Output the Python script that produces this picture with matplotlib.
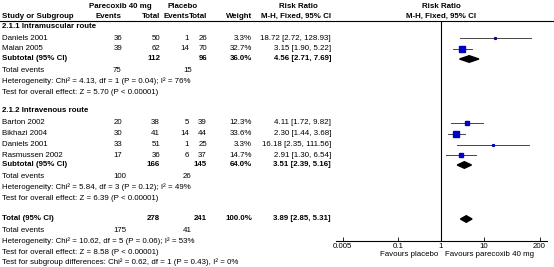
import matplotlib.pyplot as plt
from matplotlib.patches import Polygon

plt.rcParams['font.family'] = ['Liberation Sans', 'DejaVu Sans']

# 2.1.1 Intramuscular route
im_names = ['Daniels 2001', 'Malan 2005']
im_ev_p = [36, 39]
im_tot_p = [50, 62]
im_ev_c = [1, 14]
im_tot_c = [26, 70]
im_weight = [3.3, 32.7]
im_rr = [18.72, 3.15]
im_lo = [2.72, 1.90]
im_hi = [128.93, 5.22]
im_sub = [112, 96, 36.0, 4.56, 2.71, 7.69]
im_events = [75, 15]
im_het = 'Heterogeneity: Chi² = 4.13, df = 1 (P = 0.04); I² = 76%'
im_z = 'Test for overall effect: Z = 5.70 (P < 0.00001)'

# 2.1.2 Intravenous route
iv_names = ['Barton 2002', 'Bikhazi 2004', 'Daniels 2001', 'Rasmussen 2002']
iv_ev_p = [20, 30, 33, 17]
iv_tot_p = [38, 41, 51, 36]
iv_ev_c = [5, 14, 1, 6]
iv_tot_c = [39, 44, 25, 37]
iv_weight = [12.3, 33.6, 3.3, 14.7]
iv_rr = [4.11, 2.30, 16.18, 2.91]
iv_lo = [1.72, 1.44, 2.35, 1.30]
iv_hi = [9.82, 3.68, 111.56, 6.54]
iv_sub = [166, 145, 64.0, 3.51, 2.39, 5.16]
iv_events = [100, 26]
iv_het = 'Heterogeneity: Chi² = 5.84, df = 3 (P = 0.12); I² = 49%'
iv_z = 'Test for overall effect: Z = 6.39 (P < 0.00001)'

# overall
tot = [278, 241, 100.0, 3.89, 2.85, 5.31]
tot_events = [175, 41]
tot_het = 'Heterogeneity: Chi² = 10.62, df = 5 (P = 0.06); I² = 53%'
tot_z = 'Test for overall effect: Z = 8.58 (P < 0.00001)'
sub_diff = 'Test for subgroup differences: Chi² = 0.62, df = 1 (P = 0.43), I² = 0%'

ticks = [0.005, 0.1, 1, 10, 200]
tick_labels = ['0.005', '0.1', '1', '10', '200']

W, H = 554, 267
fs = 5.7
fig = plt.figure(figsize=(W / 100, H / 100), dpi=100)
ax = fig.add_axes([0, 0, 1, 1])
ax.set_xlim(0, W)
ax.set_ylim(H, 0)
ax.axis('off')

# forest panel, y in pixel units so rows line up with the table
x0, x1, y_top, y_axis = 336, 547.3, 21, 240.7
fx = fig.add_axes([x0 / W, (H - y_axis) / H, (x1 - x0) / W, (y_axis - y_top) / H])
fx.set_xscale('log')
fx.set_xlim(10 ** -2.453, 10 ** 2.483)
fx.set_ylim(y_axis, y_top)
fx.patch.set_alpha(0)
for s in ['top', 'left', 'right']:
    fx.spines[s].set_visible(False)
fx.spines['bottom'].set_linewidth(0.8)
fx.set_yticks([])
fx.set_xticks(ticks)
fx.set_xticklabels(tick_labels, fontsize=fs)
fx.minorticks_off()
fx.tick_params(axis='x', direction='in', length=3, width=0.6, pad=1.5)
fx.axvline(1, color='black', lw=0.8)

# column positions
c_ev_p, c_tot_p, c_ev_c, c_tot_c, c_w, c_rr = 122, 160, 189, 207, 252, 331


def t(x, y, s, ha='left', bold=False):
    ax.text(x, y, s, ha=ha, va='center', fontsize=fs,
            fontweight='bold' if bold else 'normal', color='black')


# header
t(120.5, 6, 'Parecoxib 40 mg', 'center', True)
t(183, 6, 'Placebo', 'center', True)
t(298, 6, 'Risk Ratio', 'center', True)
t(441.5, 6, 'Risk Ratio', 'center', True)
t(2, 16, 'Study or Subgroup', bold=True)
t(c_ev_p, 16, 'Events', 'right', True)
t(c_tot_p, 16, 'Total', 'right', True)
t(c_ev_c, 16, 'Events', 'right', True)
t(c_tot_c, 16, 'Total', 'right', True)
t(c_w, 16, 'Weight', 'right', True)
t(c_rr, 16, 'M-H, Fixed, 95% CI', 'right', True)
t(441.5, 16, 'M-H, Fixed, 95% CI', 'center', True)
ax.plot([0, W], [21, 21], color='black', lw=0.8)


def study_rows(names, ev_p, tot_p, ev_c, tot_c, weight, rr, lo, hi, ys):
    for i, y in enumerate(ys):
        t(2, y, names[i])
        t(c_ev_p, y, str(ev_p[i]), 'right')
        t(c_tot_p, y, str(tot_p[i]), 'right')
        t(c_ev_c, y, str(ev_c[i]), 'right')
        t(c_tot_c, y, str(tot_c[i]), 'right')
        t(c_w, y, '%.1f%%' % weight[i], 'right')
        t(c_rr, y, '%.2f [%.2f, %.2f]' % (rr[i], lo[i], hi[i]), 'right')
        fx.plot([lo[i], hi[i]], [y, y], color='#444444', lw=0.7)
        fx.plot(rr[i], y, marker='s', color='#0000c8', mec='#0000c8',
                ms=0.95 * weight[i] ** 0.5 * 0.72)


def pooled_row(label, vals, y):
    t(2, y, label, bold=True)
    t(c_tot_p, y, str(vals[0]), 'right', True)
    t(c_tot_c, y, str(vals[1]), 'right', True)
    t(c_w, y, '%.1f%%' % vals[2], 'right', True)
    t(c_rr, y, '%.2f [%.2f, %.2f]' % (vals[3], vals[4], vals[5]), 'right', True)
    h = 3.3
    fx.add_patch(Polygon([(vals[4], y), (vals[3], y - h), (vals[5], y),
                          (vals[3], y + h)], closed=True, color='black'))


def events_row(ev, y):
    t(2, y, 'Total events')
    t(113, y, str(ev[0]))
    t(183, y, str(ev[1]))


# intramuscular
t(2, 27, '2.1.1 Intramuscular route', bold=True)
study_rows(im_names, im_ev_p, im_tot_p, im_ev_c, im_tot_c, im_weight,
           im_rr, im_lo, im_hi, [38, 49])
pooled_row('Subtotal (95% CI)', im_sub, 59)
events_row(im_events, 70)
t(2, 81, im_het)
t(2, 92, im_z)

# intravenous
t(2, 110, '2.1.2 Intravenous route', bold=True)
study_rows(iv_names, iv_ev_p, iv_tot_p, iv_ev_c, iv_tot_c, iv_weight,
           iv_rr, iv_lo, iv_hi, [122.5, 133.5, 144.5, 155.3])
pooled_row('Subtotal (95% CI)', iv_sub, 165)
events_row(iv_events, 176)
t(2, 187, iv_het)
t(2, 198, iv_z)

# total
pooled_row('Total (95% CI)', tot, 219)
events_row(tot_events, 230)
t(2, 241, tot_het)
t(2, 252, tot_z)
t(2, 262, sub_diff)

t(438, 255, 'Favours placebo', 'right')
t(445, 255, 'Favours parecoxib 40 mg')

fig.savefig('out.png', dpi=100)
